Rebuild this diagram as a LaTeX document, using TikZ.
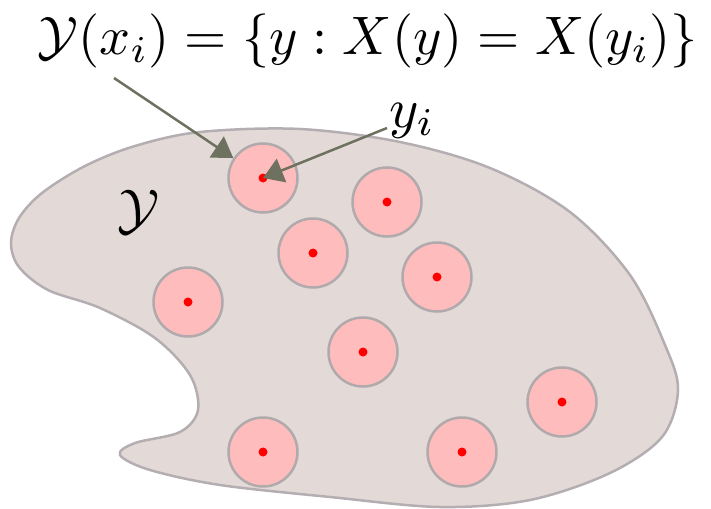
\documentclass[tikz,border=0pt]{standalone}
\usepackage{graphicx}
\usetikzlibrary{arrows.meta}
\definecolor{blobfill}{RGB}{227,218,215}
\definecolor{blobline}{RGB}{180,174,178}
\definecolor{ballfill}{RGB}{255,188,188}
\definecolor{ballline}{RGB}{176,170,173}
\definecolor{arrcol}{RGB}{110,112,96}
\begin{document}
\begin{tikzpicture}[x=1pt,y=-1pt,
  ball/.style={circle,draw=ballline,fill=ballfill,line width=2.5pt,minimum size=69pt,inner sep=0pt},
  pt/.style={circle,fill=red,minimum size=9pt,inner sep=0pt},
  arr/.style={draw=arrcol,line width=2.5pt,-{Triangle[length=20pt,width=25pt]}},
  lbl/.style={inner sep=0pt,scale=5.6}]
\useasboundingbox (0,0) rectangle (711,508);
\draw[fill=blobfill,draw=blobline,line width=2.5pt] plot[smooth cycle,tension=0.55] coordinates {
  (11,243) (19,218) (42,193) (85,166) (135,146) (200,132) (300,129) (400,142) (490,168)
  (570,212) (630,275) (665,345) (678,390) (662,437) (610,473) (530,500) (440,507)
  (330,497) (220,485) (150,470) (120,455) (135,443) (180,432) (198,410) (190,375)
  (155,338) (100,308) (48,290) (19,267)};
\foreach \n/\x/\y in {1/263/178,2/387/202,3/313/253,4/437/277,5/188/302,6/363/352,7/562/402,8/263/452,9/462/452}{
  \node[ball] (c\n) at (\x,\y) {};
  \node[pt] (d\n) at (\x,\y) {};
}
\node[inner sep=0pt] (F) at (368,41) {\resizebox{660pt}{!}{$\mathcal{Y}(x_i) = \{y : X(y) = X(y_i)\}$}};
\node[lbl,anchor=base west] (yl) at (388,127) {$y_i$};
\node[lbl] (Y) at (139,212) {$\mathcal{Y}$};
\coordinate (a1) at (114,78);
\coordinate (a2) at (387,128);
\draw[arr] (a1) -- (c1);
\draw[arr] (a2) -- (d1.center);
\end{tikzpicture}
\end{document}
